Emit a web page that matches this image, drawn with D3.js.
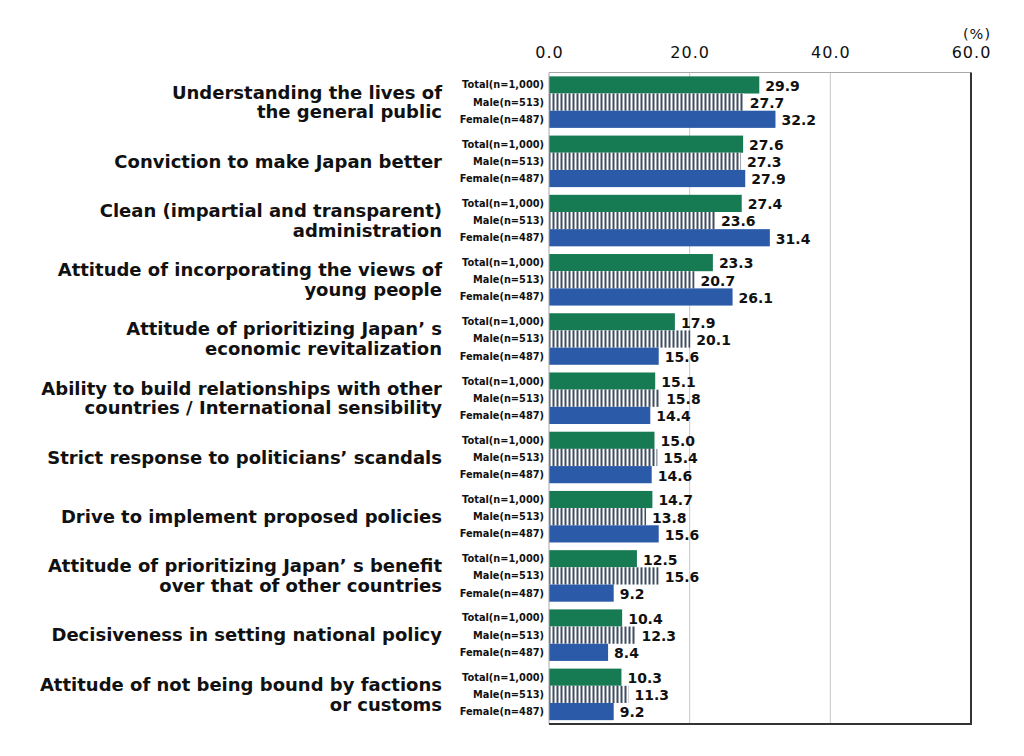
<!DOCTYPE html>
<meta charset="utf-8">
<style>
body { margin: 0; background: #fff; }
text { font-family: "DejaVu Sans", Verdana, sans-serif; }
.cat { font-weight: bold; font-size: 18px; fill: #111; }
.ser { font-weight: bold; font-size: 9.8px; fill: #111; }
.val { font-weight: bold; font-size: 14px; fill: #111; }
.tick { font-size: 16px; fill: #111; letter-spacing: 1px; }
</style>
<body>
<script src="https://d3js.org/d3.v7.min.js"></script>
<script>

// chart data
var categories = [
  ["Understanding the lives of", "the general public"],
  ["Conviction to make Japan better"],
  ["Clean (impartial and transparent)", "administration"],
  ["Attitude of incorporating the views of", "young people"],
  ["Attitude of prioritizing Japan\u2019 s", "economic revitalization"],
  ["Ability to build relationships with other", "countries / International sensibility"],
  ["Strict response to politicians\u2019 scandals"],
  ["Drive to implement proposed policies"],
  ["Attitude of prioritizing Japan\u2019 s benefit", "over that of other countries"],
  ["Decisiveness in setting national policy"],
  ["Attitude of not being bound by factions", "or customs"]
];
var seriesNames = ["Total(n=1,000)", "Male(n=513)", "Female(n=487)"];
var totalVals  = [29.9, 27.6, 27.4, 23.3, 17.9, 15.1, 15.0, 14.7, 12.5, 10.4, 10.3];
var maleVals   = [27.7, 27.3, 23.6, 20.7, 20.1, 15.8, 15.4, 13.8, 15.6, 12.3, 11.3];
var femaleVals = [32.2, 27.9, 31.4, 26.1, 15.6, 14.4, 14.6, 15.6, 9.2, 8.4, 9.2];
var tickVals = [0, 20, 40, 60];

var seriesVals = [totalVals, maleVals, femaleVals];
var fills = ["#167a52", "url(#stripes)", "#2b5aa9"];

var W = 1024, H = 756;
var plot = {left: 549, right: 971, top: 72.5, bottom: 724};

var svg = d3.select("body").append("svg")
    .attr("width", W)
    .attr("height", H);

// vertical stripe pattern for the male bars
var pat = svg.append("defs").append("pattern")
    .attr("id", "stripes")
    .attr("width", 4).attr("height", 4)
    .attr("patternUnits", "userSpaceOnUse");
pat.append("rect").attr("width", 4).attr("height", 4).attr("fill", "#fff");
pat.append("rect").attr("x", 0.5).attr("width", 2).attr("height", 4).attr("fill", "#3f4d62");

var x = d3.scaleLinear().domain([0, 60]).range([plot.left, plot.right]);
var y = d3.scaleBand().domain(d3.range(categories.length))
    .range([plot.top, plot.bottom])
    .paddingInner(0.13).paddingOuter(0.065);
var ySub = d3.scaleBand().domain(d3.range(3)).range([0, y.bandwidth()]);

// grid lines
svg.append("g").selectAll("line")
  .data(tickVals.slice(1, -1))
  .join("line")
    .attr("x1", d => x(d)).attr("x2", d => x(d))
    .attr("y1", plot.top).attr("y2", plot.bottom)
    .attr("stroke", "#c8c8c8").attr("stroke-width", 1);

// top axis labels
var axis = svg.append("g")
    .attr("transform", "translate(0," + (plot.top - 12) + ")")
    .call(d3.axisTop(x).tickValues(tickVals).tickFormat(d3.format(".1f")).tickSize(0));
axis.select(".domain").remove();
axis.selectAll("text").attr("class", "tick").attr("font-family", null).attr("font-size", null);

svg.append("text")
    .attr("class", "tick")
    .attr("x", x(60) + 6).attr("y", 39)
    .attr("text-anchor", "middle")
    .style("font-size", "14.5px")
    .text("(%)");

// bars
var groups = svg.append("g").selectAll("g")
  .data(categories)
  .join("g")
    .attr("transform", (d, i) => "translate(0," + y(i) + ")");

seriesVals.forEach(function(vals, s) {
  groups.append("rect")
      .attr("x", x(0))
      .attr("y", ySub(s))
      .attr("width", (d, i) => x(vals[i]) - x(0))
      .attr("height", ySub.bandwidth())
      .attr("fill", fills[s]);

  groups.append("text")
      .attr("class", "val")
      .attr("x", (d, i) => x(vals[i]) + 6)
      .attr("y", ySub(s) + ySub.bandwidth() / 2)
      .attr("dy", "0.42em")
      .text((d, i) => d3.format(".1f")(vals[i]));

  groups.append("text")
      .attr("class", "ser")
      .attr("x", x(0) - 5)
      .attr("y", ySub(s) + ySub.bandwidth() / 2)
      .attr("dy", "0.35em")
      .attr("text-anchor", "end")
      .text(seriesNames[s]);
});

// category labels
groups.append("text")
    .attr("class", "cat")
    .attr("text-anchor", "end")
    .attr("x", 442)
    .attr("y", y.bandwidth() / 2)
  .selectAll("tspan")
  .data(d => d.map((t, k) => ({t: t, k: k, n: d.length})))
  .join("tspan")
    .attr("x", 442)
    .attr("dy", d => d.k === 0 ? (0.35 - (d.n - 1) * 0.55) + "em" : "1.1em")
    .text(d => d.t);

// plot frame: light top/left, dark right/bottom
svg.append("line").attr("x1", plot.left).attr("x2", plot.right)
    .attr("y1", plot.top).attr("y2", plot.top).attr("stroke", "#a8a8a8");
svg.append("line").attr("x1", plot.left).attr("x2", plot.left)
    .attr("y1", plot.top).attr("y2", plot.bottom).attr("stroke", "#a8a8a8");
svg.append("line").attr("x1", plot.right).attr("x2", plot.right)
    .attr("y1", plot.top).attr("y2", plot.bottom + 1).attr("stroke", "#333").attr("stroke-width", 2);
svg.append("line").attr("x1", plot.left).attr("x2", plot.right + 1)
    .attr("y1", plot.bottom).attr("y2", plot.bottom).attr("stroke", "#333").attr("stroke-width", 2);

</script>
</body>
